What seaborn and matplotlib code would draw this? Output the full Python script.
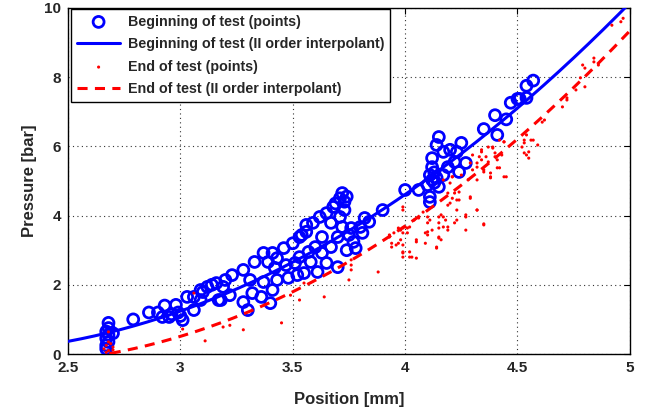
import matplotlib
matplotlib.use("Agg")
import matplotlib.pyplot as plt
import seaborn as sns
import numpy as np
import pandas as pd

# ---------------- data ----------------
blue_x = [2.67, 2.67, 2.68, 2.67, 2.68, 2.67, 2.68, 2.70, 2.68,
          2.79, 2.86, 2.90, 2.93, 2.92, 2.95, 2.98, 3.01, 3.03, 3.06, 3.06, 3.10, 3.09, 3.14, 3.17, 3.19,
          2.96, 2.99, 3.00,
          3.09, 3.12, 3.16, 3.20, 3.23, 3.28, 3.18, 3.22, 3.31, 3.33, 3.37, 3.41, 3.46, 3.50, 3.54, 3.56,
          3.28, 3.30, 3.32, 3.36, 3.40, 3.41, 3.37, 3.43, 3.48, 3.52, 3.55, 3.42, 3.47, 3.51, 3.39, 3.43,
          3.72, 3.71, 3.68, 3.65, 3.62, 3.59, 3.56, 3.53, 3.67, 3.71, 3.73, 3.82, 3.84, 3.90, 3.80, 3.81,
          3.76, 3.75, 3.77, 3.74, 3.70, 3.61, 3.58, 3.65, 3.63, 3.67, 3.60, 3.57, 3.53, 3.63, 3.70, 3.72,
          3.78, 3.74, 3.73, 3.69,
          4.00, 4.06, 4.11, 4.15, 4.14, 4.17, 4.20, 4.23, 4.25, 4.22, 4.27, 4.24, 4.12, 4.12, 4.11, 4.12,
          4.10, 4.14, 4.17, 4.15, 4.19, 4.11, 4.13, 4.13,
          4.35, 4.41, 4.40, 4.45, 4.47, 4.50, 4.51, 4.54, 4.54, 4.57]
blue_y = [0.15, 0.25, 0.35, 0.45, 0.55, 0.65, 0.75, 0.60, 0.90,
          1.00, 1.20, 1.20, 1.40, 1.07, 1.07, 1.42, 0.98, 1.65, 1.65, 1.27, 1.79, 1.56, 2.00, 1.56, 1.94,
          1.15, 1.20, 1.10,
          1.85, 1.94, 2.05, 2.14, 2.28, 2.43, 1.56, 1.70, 2.14, 2.66, 2.92, 2.92, 3.06, 3.20, 3.44, 3.73,
          1.50, 1.27, 1.76, 1.65, 1.47, 1.85, 2.08, 2.14, 2.20, 2.28, 2.34, 2.49, 2.57, 2.63, 2.66, 2.77,
          4.65, 4.50, 4.25, 4.07, 3.96, 3.79, 3.53, 3.38, 3.79, 3.96, 4.16, 3.93, 3.82, 4.16, 3.67, 3.50,
          3.64, 3.44, 3.24, 3.00, 2.51, 2.37, 2.66, 2.63, 2.92, 3.09, 3.09, 2.95, 2.80, 3.38, 3.38, 3.67,
          3.06, 4.55, 4.40, 4.35,
          4.74, 4.74, 4.39, 6.27, 6.04, 5.84, 5.90, 5.84, 6.10, 5.55, 5.52, 5.26, 5.66, 5.40, 5.17, 5.03,
          4.88, 5.09, 5.17, 4.83, 5.40, 4.54, 4.95, 5.25,
          6.50, 6.33, 6.90, 6.78, 7.26, 7.37, 7.37, 7.40, 7.75, 7.90]

red_x = [2.66, 2.67, 2.68, 2.69, 2.70, 2.68, 2.67, 2.69, 2.70, 2.68,
         3.01, 3.11, 3.06, 3.19, 3.22, 3.28, 3.45, 3.53, 3.55, 3.64, 3.49, 3.75, 3.76, 3.76, 3.76, 3.88,
         3.93, 3.94, 3.97, 3.97, 3.98, 3.99, 3.99, 4.02, 4.03, 4.05, 4.01, 4.02, 4.05, 4.10, 4.10, 4.10,
         4.11, 4.14, 4.15, 4.15, 4.16, 4.19, 4.17, 4.22, 4.23, 4.27, 4.32, 4.35, 4.23, 4.20, 4.19, 4.22,
         4.24, 4.24, 4.20, 4.17, 4.21, 4.25, 4.29, 4.28, 4.30, 4.32, 4.34, 4.35, 4.36, 4.38, 4.42, 4.44,
         4.39, 4.42, 4.44, 4.41, 4.34, 4.30, 4.29,
         3.93, 3.94, 3.99, 3.99, 4.00, 4.01, 3.99, 3.99, 4.02, 4.04, 4.06, 4.08, 4.10, 4.05, 4.09, 4.09,
         4.12, 4.14, 4.15, 4.15, 4.15, 4.16, 4.17, 4.18, 4.19, 4.19, 4.21, 4.23, 4.21, 4.27, 4.29, 4.32,
         4.32, 4.34, 4.35, 4.38, 4.40, 4.41, 4.27, 4.32, 4.35, 3.98, 3.95, 3.96, 3.99, 3.99,
         4.52, 4.54, 4.55, 4.57, 4.59, 4.53, 4.61, 4.72, 4.76, 4.80, 4.78, 4.79, 4.84, 4.33, 4.37, 4.38,
         4.37, 4.39, 4.40, 4.43, 4.45, 4.44, 4.53, 4.56, 4.53, 4.55, 4.54, 4.62, 4.70, 4.72, 4.80, 4.84,
         4.86, 4.92, 4.96, 4.97]
red_y = [0.15, 0.25, 0.10, 0.30, 0.20, 0.35, 0.05, 0.02, 0.12, 0.64,
         0.72, 0.38, 1.76, 0.78, 0.83, 0.70, 0.90, 1.56, 2.05, 1.65, 1.70, 2.14, 2.57, 2.43, 2.72, 2.37,
         3.38, 3.09, 3.64, 3.20, 3.30, 3.15, 4.25, 2.95, 2.80, 2.77, 3.64, 3.67, 3.24, 3.79, 3.53, 3.44,
         3.87, 3.09, 3.35, 3.64, 4.02, 3.67, 3.96, 3.79, 3.87, 4.02, 4.16, 3.76, 4.16, 4.36, 4.65, 4.65,
         4.45, 4.68, 4.94, 5.03, 5.12, 5.17, 4.54, 5.03, 5.32, 5.40, 5.61, 5.32, 5.70, 5.12, 5.38, 5.12,
         5.95, 6.18, 6.13, 5.61, 5.90, 5.75, 5.52,
         3.44, 3.20, 4.16, 3.64, 3.67, 3.50, 2.95, 2.80, 2.80, 3.87, 3.93, 4.10, 3.96, 3.30, 3.50, 3.20,
         3.58, 3.06, 3.79, 3.96, 3.38, 3.30, 3.67, 3.87, 3.58, 4.30, 4.50, 4.45, 5.12, 3.96, 4.50, 5.52,
         5.03, 5.84, 5.26, 5.09, 5.70, 5.38, 3.58, 4.16, 3.73, 3.58, 3.50, 3.15, 2.92, 3.50,
         5.98, 5.75, 5.84, 6.18, 6.04, 6.10, 6.70, 7.34, 7.63, 7.72, 7.98, 8.35, 8.44, 5.70, 5.55, 5.23,
         5.98, 5.98, 5.81, 5.75, 5.12, 6.13, 6.18, 6.18, 5.81, 5.66, 6.33, 6.76, 7.14, 7.40, 8.26, 8.55,
         8.35, 9.50, 9.60, 9.70]

# points
blue_curve_x = [2.50, 3.00, 4.00, 4.29, 4.42, 4.63, 4.78, 4.96]
blue_curve_y = [0.38, 1.20, 4.70, 6.00, 6.56, 8.00, 8.50, 10.0]
red_curve_x = [2.72, 2.84, 2.99, 3.12, 3.27, 3.43, 3.53, 3.68, 3.80, 3.93, 4.47, 4.63, 4.79, 4.99]
red_curve_y = [0.06, 0.23, 0.46, 0.78, 1.13, 1.56, 1.90, 2.43, 2.92, 3.38, 5.98, 6.96, 7.98, 9.28]
blue_range = [2.5, 5.0]
red_range = [2.69, 5.0]

x_ticks = [2.5, 3, 3.5, 4, 4.5, 5]
y_ticks = [0, 2, 4, 6, 8, 10]
labels = ["Beginning of test (points)", "Beginning of test (II order interpolant)",
          "End of test (points)", "End of test (II order interpolant)"]

# ---------------- build tables ----------------
blue_df = pd.DataFrame({"x": blue_x, "y": blue_y})
red_df = pd.DataFrame({"x": red_x, "y": red_y})
bc = np.polyfit(blue_curve_x, blue_curve_y, 2)
rc = np.polyfit(red_curve_x, red_curve_y, 2)
bx = np.linspace(blue_range[0], blue_range[1], 300)
rx = np.linspace(red_range[0], red_range[1], 300)
blue_fit = pd.DataFrame({"x": bx, "y": np.polyval(bc, bx)})
red_fit = pd.DataFrame({"x": rx, "y": np.polyval(rc, rx)})

# ---------------- plot ----------------
sns.set_theme(style="white")
plt.rcParams["font.family"] = ["Liberation Sans", "DejaVu Sans"]
plt.rcParams["font.weight"] = "bold"

fig = plt.figure(figsize=(6.48, 4.16), dpi=100)
ax = fig.add_axes([0.105, 0.149, 0.867, 0.832])

sns.scatterplot(data=blue_df, x="x", y="y", ax=ax, marker="o", s=62,
                facecolors="none", edgecolor=(0, 0, 1), linewidth=2.0,
                label=labels[0], zorder=3)
sns.lineplot(data=blue_fit, x="x", y="y", ax=ax, color=(0, 0, 1), linewidth=2.2,
             label=labels[1], zorder=4)
sns.scatterplot(data=red_df, x="x", y="y", ax=ax, marker="o", s=5,
                color=(1, 0, 0), edgecolor="none", linewidth=0,
                label=labels[2], zorder=5)
sns.lineplot(data=red_fit, x="x", y="y", ax=ax, color=(1, 0, 0), linewidth=2.2,
             label=labels[3], zorder=6)
ax.lines[-1].set_dashes([3.3, 2.4])

ax.set_xlim(2.5, 5)
ax.set_ylim(0, 10)
ax.set_xticks(x_ticks)
ax.set_xticklabels([f"{t:g}" for t in x_ticks])
ax.set_yticks(y_ticks)
ax.set_yticklabels([f"{t:g}" for t in y_ticks])
ax.tick_params(direction="in", top=True, right=True, length=4, width=0.8,
               labelsize=11, color="black", pad=5)
for lab in ax.get_xticklabels() + ax.get_yticklabels():
    lab.set_fontweight("bold")
ax.grid(True, linestyle=(0, (1, 3)), color="#333333", linewidth=0.8)
for sp in ax.spines.values():
    sp.set_color("black")
    sp.set_linewidth(1.0)

ax.set_xlabel("Position [mm]", fontsize=12, fontweight="bold", labelpad=12)
ax.set_ylabel("Pressure [bar]", fontsize=12, fontweight="bold", labelpad=5)

leg = ax.legend(loc="upper left", bbox_to_anchor=(0.006, 0.997), fontsize=10.3,
                frameon=True, fancybox=False, edgecolor="black", framealpha=1,
                handlelength=3.0, handletextpad=0.55, borderpad=0.4,
                labelspacing=0.6, borderaxespad=0)
leg.get_frame().set_linewidth(1.0)
for t in leg.get_texts():
    t.set_fontweight("bold")

fig.savefig("out.png", dpi=100)
